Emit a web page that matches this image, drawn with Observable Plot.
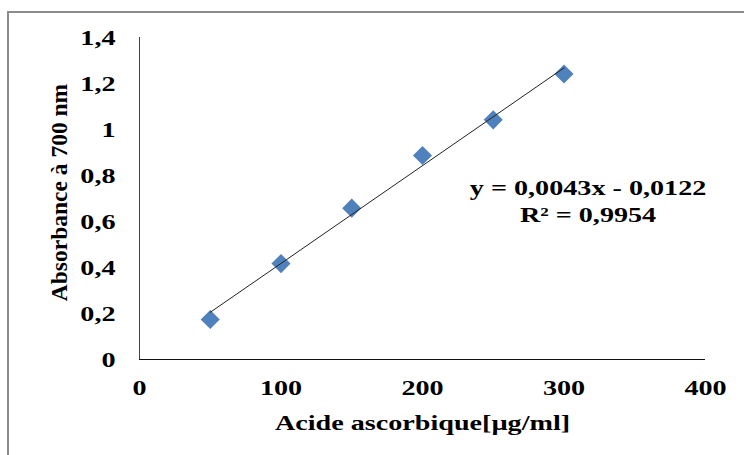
<!DOCTYPE html>
<html><head><meta charset="utf-8">
<script src="https://cdn.jsdelivr.net/npm/d3@7"></script>
<script src="https://cdn.jsdelivr.net/npm/@observablehq/plot@0.6"></script>
<style>
html,body{margin:0;padding:0;background:#fff;overflow:hidden;}
#wrap{position:relative;width:744px;height:455px;}
#border{position:absolute;left:7px;top:11px;width:800px;height:500px;border-top:2px solid #8c8c8c;border-left:2px solid #8c8c8c;pointer-events:none;}
#chart svg text{font-family:"Liberation Serif","Times New Roman",serif !important;font-weight:bold !important;font-variant:normal !important;}
</style></head><body>
<div id="wrap"><div id="chart"></div><div id="border"></div></div>
<script>
const concentrations = [50, 100, 150, 200, 250, 300];
const absorbances = [0.174, 0.417, 0.658, 0.887, 1.042, 1.241];
const xTicks = [0, 100, 200, 300, 400];
const yTicks = [0, 0.2, 0.4, 0.6, 0.8, 1, 1.2, 1.4];
const yTickLabels = ["0", "0,2", "0,4", "0,6", "0,8", "1", "1,2", "1,4"];
const xTitle = "Acide ascorbique[µg/ml]";
const yTitle = "Absorbance à 700 nm";
const equationLines = ["y = 0,0043x - 0,0122", "R² = 0,9954"];

const data = concentrations.map((x, i) => ({x, y: absorbances[i]}));

const chart = Plot.plot({
  width: 744, height: 455,
  marginLeft: 139, marginRight: 39, marginTop: 37, marginBottom: 96,
  style: {fontFamily: "'Liberation Serif','Times New Roman',serif", fontWeight: "bold", fontSize: "22px", background: "transparent", color: "#000"},
  x: {domain: [0, 400], ticks: xTicks, tickSize: 0, tickPadding: 20, label: null},
  y: {domain: [0, 1.4], ticks: yTicks, tickSize: 0, tickPadding: 24, tickFormat: d => yTickLabels[yTicks.indexOf(d)], label: null},
  marks: [
    Plot.ruleX([0], {stroke: "#444"}),
    Plot.ruleY([0], {stroke: "#111"}),
    Plot.dot(data, {x: "x", y: "y", symbol: "diamond2", r: 8.6, fill: "#4f81bd", stroke: "none", ariaLabel: "points"}),
    Plot.linearRegressionY(data, {x: "x", y: "y", ci: 0, stroke: "#222", strokeWidth: 1}),
    Plot.text([equationLines.join("\n")], {x: 317, y: 0.694, text: d => d, textAnchor: "middle", lineHeight: 1.23}),
    Plot.text([xTitle], {frameAnchor: "bottom", dy: 63, text: d => d, textAnchor: "middle", lineAnchor: "middle"}),
    Plot.text([yTitle], {frameAnchor: "left", rotate: -90, dx: -80, dy: -6, text: d => d, textAnchor: "middle", lineAnchor: "middle", fontSize: 23.5})
  ]
});
document.getElementById("chart").appendChild(chart);

// horizontal widening of the (non-rotated) text glyphs and of the markers, as in the reference
const stretch = 1.28;
chart.querySelectorAll("text").forEach(t => {
  const tr = t.getAttribute("transform") || "";
  if (tr.includes("rotate")) return;
  t.setAttribute("transform", tr + ` scale(${stretch},1)`);
});
chart.querySelectorAll('g[aria-label="points"] path').forEach(p => {
  p.setAttribute("transform", (p.getAttribute("transform") || "") + " scale(1.16,1)");
});
</script>
</body></html>
